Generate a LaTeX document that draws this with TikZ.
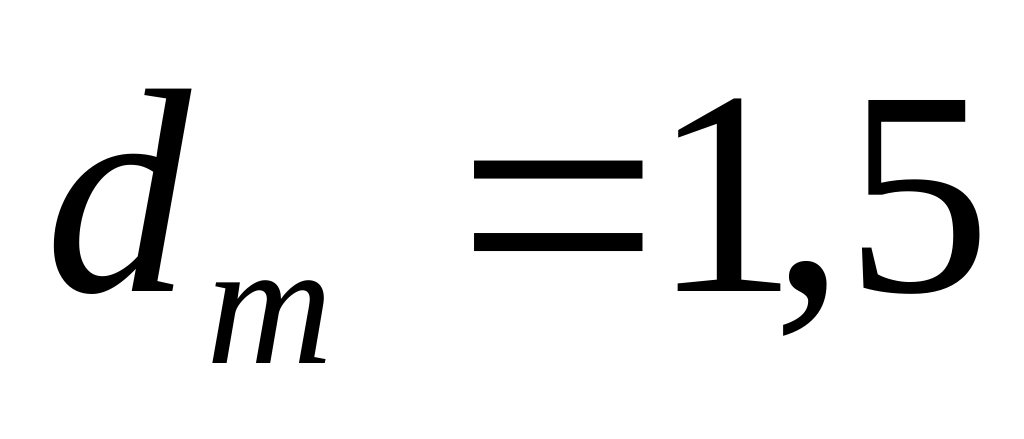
\documentclass[tikz,border=0pt]{standalone}
\usepackage{fontspec}
\setmainfont{Liberation Serif}

\begin{document}
\begin{tikzpicture}

    \useasboundingbox (0,0) rectangle (10.24,4.39);

    \node[inner sep=0pt,anchor=base west,font=\fontsize{83}{90}\selectfont\itshape] (d) at (0.45,1.47) {d};
    \node[inner sep=0pt,anchor=base west,font=\fontsize{50}{56}\selectfont\itshape] (m) at (2.06,0.75) {m};
    \node[inner sep=0pt,anchor=base west,font=\fontsize{103}{110}\selectfont] (eq) at (4.56,1.12) {=};
    \node[inner sep=0pt,anchor=base west,font=\fontsize{83}{90}\selectfont] (val) at (6.26,1.47) {\kern.09em1\kern-.09em,5};

\end{tikzpicture}
\end{document}
